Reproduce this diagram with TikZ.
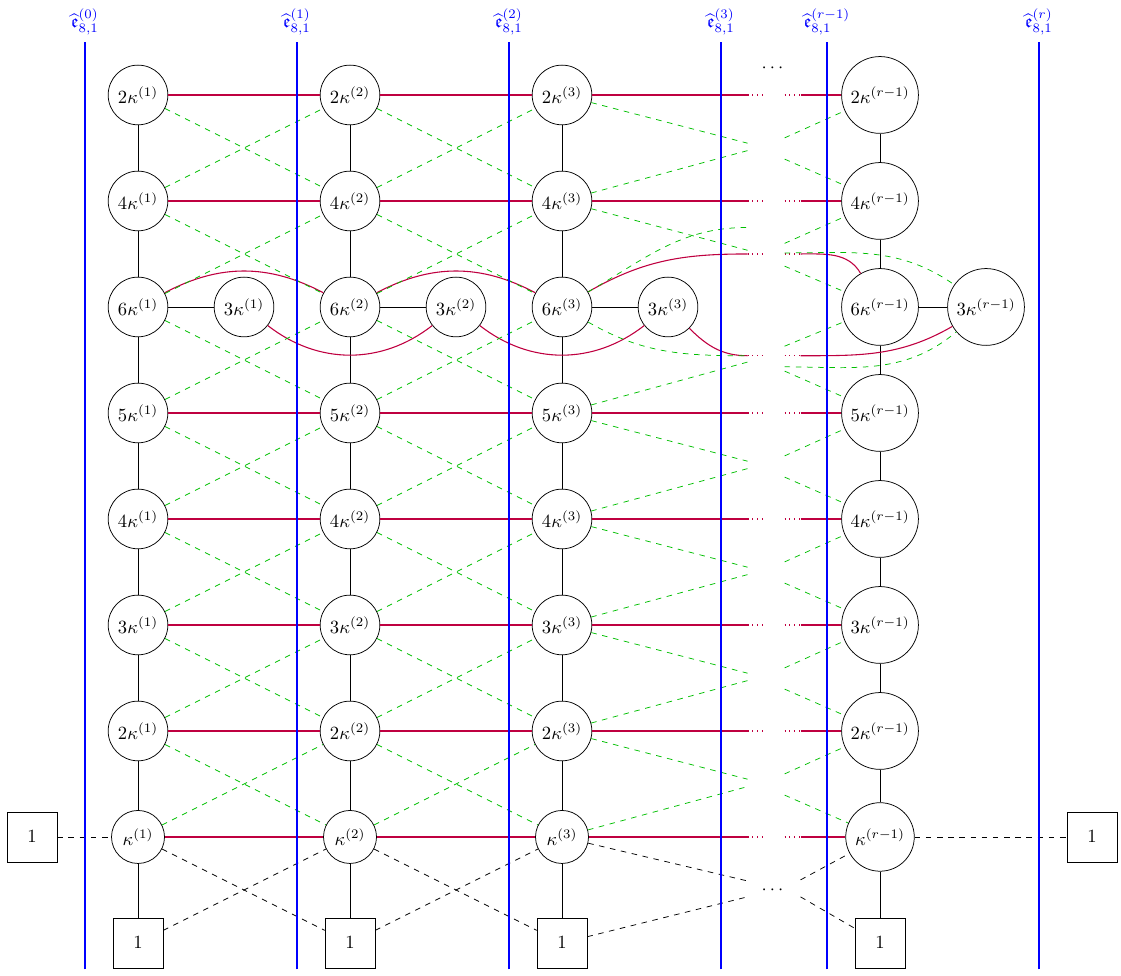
\documentclass[tikz,border=0pt]{standalone}
\usepackage{amsmath,amssymb}
\definecolor{redline}{rgb}{0.75,0,0.25}
\definecolor{greenline}{rgb}{0,0.75,0}
\begin{document}
\begin{tikzpicture}[
  kn/.style={circle,draw,minimum size=1cm},
  bx/.style={draw,minimum size=0.94cm},
  rl/.style={draw=redline,line width=0.58pt},
  rd/.style={draw=redline,dotted,line width=0.58pt},
  gl/.style={draw=greenline,dashed},
  bl/.style={draw=black,dashed},
  bline/.style={draw=blue,line width=0.56pt},
  lab/.style={text=blue,anchor=south}
]
\useasboundingbox (-2.604,-2.623) rectangle (18.547,15.792);

% nodes and columns
\foreach \cc/\xx/\ss in {1/0/{(1)},2/4/{(2)},3/8/{(3)},r/14/{(r-1)}} {
  \foreach \rw/\yy/\mm in {a/14/2,b/12/4,c/10/6,d/8/5,e/6/4,f/4/3,g/2/2,h/0/{}} {
    \node[kn] (n-\rw-\cc) at (\xx,\yy) {$\mm\kappa^{\ss}$};
  }
  \node[kn] (t-\cc) at (\xx+2,10) {$3\kappa^{\ss}$};
  \node[bx] (b-\cc) at (\xx,-2) {$1$};
  \draw (n-a-\cc) -- (n-b-\cc) -- (n-c-\cc) -- (n-d-\cc) -- (n-e-\cc) -- (n-f-\cc) -- (n-g-\cc) -- (n-h-\cc) -- (b-\cc);
  \draw (n-c-\cc) -- (t-\cc);
}
\node[bx] (bL) at (-2,0) {$1$};
\node[bx] (bR) at (18,0) {$1$};
\node (dT) at (12,14.5) {$\cdots$};
\node (dB) at (12,-1) {$\cdots$};

% red horizontal lines
\foreach \rw/\yy in {a/14,b/12,d/8,e/6,f/4,g/2,h/0} {
  \coordinate (rA-\rw) at (11.5,\yy);
  \coordinate (rB-\rw) at (11.8,\yy);
  \coordinate (rC-\rw) at (12.2,\yy);
  \coordinate (rD-\rw) at (12.5,\yy);
  \draw[rl] (n-\rw-1) -- (n-\rw-2) -- (n-\rw-3) -- (rA-\rw);
  \draw[rd] (rA-\rw) -- (rB-\rw);
  \draw[rd] (rC-\rw) -- (rD-\rw);
  \draw[rl] (rD-\rw) -- (n-\rw-r);
}
% red curves on the 6 kappa row
\coordinate (rA-u) at (11.5,11);
\coordinate (rB-u) at (11.8,11);
\coordinate (rC-u) at (12.2,11);
\coordinate (rD-u) at (12.5,11);
\coordinate (rA-w) at (11.5,9.08);
\coordinate (rB-w) at (11.8,9.08);
\coordinate (rC-w) at (12.2,9.08);
\coordinate (rD-w) at (12.5,9.08);
\draw[rl] (n-c-1) to[out=28,in=152] (n-c-2) to[out=28,in=152] (n-c-3) to[out=30,in=180] (rA-u);
\draw[rl] (t-1) to[out=-38,in=-142] (t-2) to[out=-38,in=-142] (t-3) to[out=-45,in=180] (rA-w);
\draw[rd] (rA-u) -- (rB-u);
\draw[rd] (rC-u) -- (rD-u);
\draw[rd] (rA-w) -- (rB-w);
\draw[rd] (rC-w) -- (rD-w);
\draw[rl] (rD-u) to[out=0,in=120] (n-c-r);
\draw[rl] (rD-w) to[out=0,in=-150] (t-r);

% green crossings between columns
\foreach \uu/\ll in {a/b,b/c,c/d,d/e,e/f,f/g,g/h} {
  \foreach \cc/\dd in {1/2,2/3} {
    \draw[gl] (n-\uu-\cc) -- (n-\ll-\dd);
    \draw[gl] (n-\ll-\cc) -- (n-\uu-\dd);
  }
}
% green lines into and out of the gap
\foreach \uu/\ll/\mm in {a/b/13,d/e/7,e/f/5,f/g/3,g/h/1} {
  \coordinate (gA-\uu) at (11.5,\mm+0.09);
  \coordinate (gB-\uu) at (11.5,\mm-0.05);
  \coordinate (gC-\uu) at (12.2,\mm+0.19);
  \coordinate (gD-\uu) at (12.2,\mm-0.21);
  \draw[gl] (n-\uu-3) -- (gA-\uu);
  \draw[gl] (n-\ll-3) -- (gB-\uu);
  \draw[gl] (gC-\uu) -- (n-\uu-r);
  \draw[gl] (gD-\uu) -- (n-\ll-r);
}
\coordinate (gA-b) at (11.5,11.07);
\coordinate (gB-b) at (11.5,11.5);
\coordinate (gC-b) at (12.2,11.2);
\coordinate (gD-b) at (12.2,10.77);
\coordinate (gE-b) at (12.2,11.02);
\draw[gl] (n-b-3) -- (gA-b);
\draw[gl] (n-c-3) to[out=30,in=180] (gB-b);
\draw[gl] (gC-b) -- (n-b-r);
\draw[gl] (gD-b) -- (n-c-r);
\draw[gl] (gE-b) to[out=0,in=145] (t-r);
\coordinate (gA-c) at (11.5,9.08);
\coordinate (gB-c) at (11.5,8.96);
\coordinate (gC-c) at (12.2,9.26);
\coordinate (gD-c) at (12.2,8.79);
\coordinate (gE-c) at (12.2,8.87);
\draw[gl] (n-c-3) to[out=-30,in=180] (gA-c);
\draw[gl] (n-d-3) -- (gB-c);
\draw[gl] (gC-c) -- (n-c-r);
\draw[gl] (gD-c) -- (n-d-r);
\draw[gl] (gE-c) to[out=0,in=-140] (t-r);

% black dashed at the bottom
\draw[bl] (bL) -- (n-h-1);
\draw[bl] (n-h-r) -- (bR);
\foreach \cc/\dd in {1/2,2/3} {
  \draw[bl] (n-h-\cc) -- (b-\dd);
  \draw[bl] (b-\cc) -- (n-h-\dd);
}
\coordinate (kA) at (11.5,-0.83);
\coordinate (kB) at (11.5,-1.13);
\coordinate (kC) at (12.5,-0.81);
\coordinate (kD) at (12.5,-1.13);
\draw[bl] (n-h-3) -- (kA);
\draw[bl] (b-3) -- (kB);
\draw[bl] (kC) -- (n-h-r);
\draw[bl] (kD) -- (b-r);

% blue lines with labels
\foreach \xx/\ss/\kk in {-1/{(0)}/1,3/{(1)}/2,7/{(2)}/3,11/{(3)}/4,13/{(r-1)}/5,17/{(r)}/6} {
  \coordinate (vb\kk) at (\xx,-2.5);
  \node[lab] (lab\kk) at (\xx,15) {$\widehat{\mathfrak{e}}^{\ss}_{8,1}$};
  \draw[bline] (vb\kk) -- (lab\kk.south);
}
\end{tikzpicture}
\end{document}
